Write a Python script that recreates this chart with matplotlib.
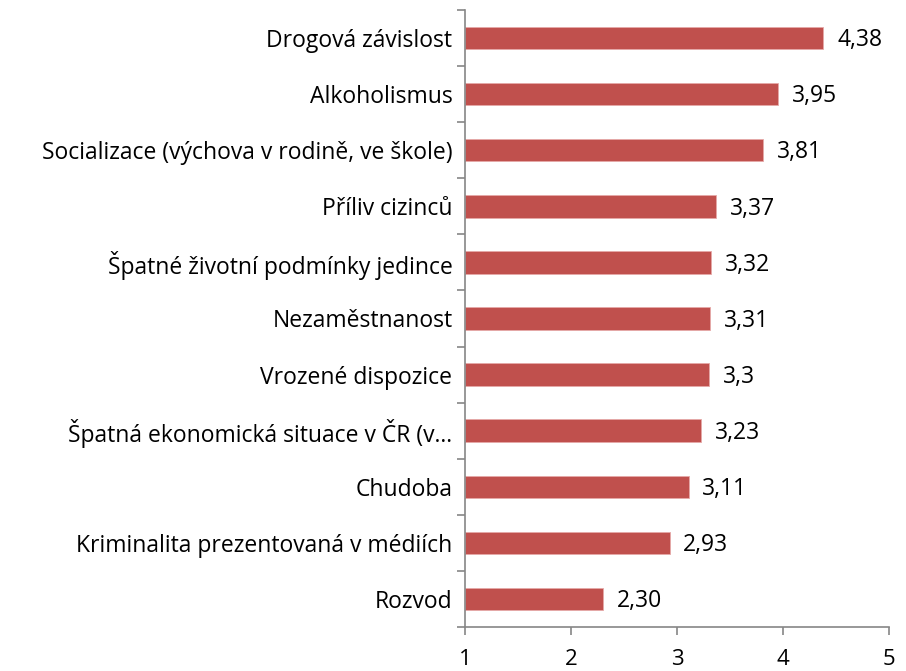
import matplotlib.pyplot as plt

# kategorie odshora dolů
kategorie = ["Drogová závislost", "Alkoholismus",
             "Socializace (výchova v rodině, ve škole)", "Příliv cizinců",
             "Špatné životní podmínky jedince", "Nezaměstnanost",
             "Vrozené dispozice", "Špatná ekonomická situace v ČR (v...",
             "Chudoba", "Kriminalita prezentovaná v médiích", "Rozvod"]
hodnoty = [4.38, 3.95, 3.81, 3.37, 3.32, 3.31, 3.3, 3.23, 3.11, 2.93, 2.30]
popisky = ["4,38", "3,95", "3,81", "3,37", "3,32", "3,31", "3,3", "3,23", "3,11", "2,93", "2,30"]
x_ticky = [1, 2, 3, 4, 5]

plt.rcParams['font.family'] = ['Open Sans', 'DejaVu Sans']

fig = plt.figure(figsize=(9.06, 6.71), dpi=100)
ax = fig.add_axes([0.5132, 0.0656, 0.468, 0.9195])

n = len(kategorie)
pozice = list(range(n - 1, -1, -1))  # první kategorie nahoře
ax.barh(pozice, [h - 1 for h in hodnoty], left=1, height=0.4,
        color="#C0504D", edgecolor="#E6A9A8", linewidth=0.6)

for p, h, t in zip(pozice, hodnoty, popisky):
    ax.text(h + 0.13, p - 0.04, t, ha='left', va='center', fontsize=16.5, color='black')

ax.set_xlim(1, 5)
ax.set_ylim(-0.5, n - 0.5)
ax.set_xticks(x_ticky)
ax.set_xticklabels([str(x) for x in x_ticky], fontsize=16)

# popisky kategorií na středy, tick čárky na hranice
ax.set_yticks(pozice)
ax.set_yticklabels(kategorie, fontsize=16.5)
ax.tick_params(axis='y', which='major', length=0, pad=9)
ax.set_yticks([i - 0.5 for i in range(n + 1)], minor=True)
ax.tick_params(axis='y', which='minor', length=6, color='#868686', width=1.2)
ax.tick_params(axis='x', length=6, color='#868686', width=1.2, pad=10)

for s in ['top', 'right']:
    ax.spines[s].set_visible(False)
for s in ['left', 'bottom']:
    ax.spines[s].set_color('#868686')
    ax.spines[s].set_linewidth(1.2)

plt.savefig("out.png", dpi=100)
